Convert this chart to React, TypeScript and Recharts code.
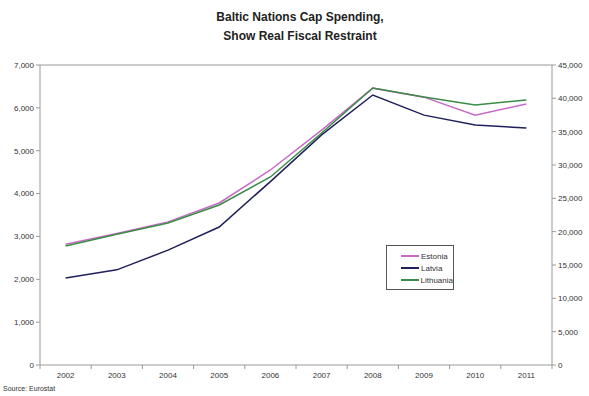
import {
  LineChart,
  Line,
  XAxis,
  YAxis,
  ReferenceLine,
} from 'recharts'

const years = ['2002', '2003', '2004', '2005', '2006', '2007', '2008', '2009', '2010', '2011']
const estonia = [2820, 3070, 3340, 3780, 4550, 5480, 6460, 6250, 5830, 6090]
const latvia = [2030, 2220, 2680, 3220, 4280, 5370, 6300, 5830, 5600, 5530]
const lithuania = [17850, 19600, 21300, 24000, 28200, 34800, 41550, 40200, 39000, 39750]

const leftTicks = [0, 1000, 2000, 3000, 4000, 5000, 6000, 7000]
const rightTicks = [0, 5000, 10000, 15000, 20000, 25000, 30000, 35000, 40000, 45000]

const series = [
  { key: 'Estonia', color: '#c868c8', axis: 'left' },
  { key: 'Latvia', color: '#20205a', axis: 'left' },
  { key: 'Lithuania', color: '#3a8c44', axis: 'right' },
]

const data = years.map((y, i) => ({
  year: y,
  Estonia: estonia[i],
  Latvia: latvia[i],
  Lithuania: lithuania[i],
}))

const fmt = (v: number) => v.toLocaleString('en-US')
const font = 'Arial, "Liberation Sans", sans-serif'
const axisColor = '#9a9a9a'

// category tick: label in the middle, tick mark on the band edges (Excel style)
function YearTick(props: any) {
  const { x, y, payload, index } = props
  const half = 25.6
  return (
    <g>
      <line x1={x - half} y1={y - 8} x2={x - half} y2={y - 4} stroke={axisColor} />
      {index === years.length - 1 && (
        <line x1={x + half} y1={y - 8} x2={x + half} y2={y - 4} stroke={axisColor} />
      )}
      <text x={x} y={y + 5} textAnchor="middle" fontSize={8} fill="#333" fontFamily={font}>
        {payload.value}
      </text>
    </g>
  )
}

function LegendBox() {
  return (
    <div
      style={{
        position: 'absolute',
        left: 386,
        top: 245,
        border: '1px solid #555',
        background: '#fff',
        width: 66,
        padding: '4px 0 3px 0',
        fontFamily: font,
        fontSize: 8,
        color: '#333',
      }}
    >
      {series.map((s) => (
        <div key={s.key} style={{ display: 'flex', alignItems: 'center', height: 12 }}>
          <span style={{ display: 'inline-block', width: 18, height: 2, background: s.color, marginLeft: 14, marginRight: 2 }} />
          <span>{s.key}</span>
        </div>
      ))}
    </div>
  )
}

export default function App() {
  return (
    <div style={{ position: 'absolute', left: 0, top: 0, width: 589, height: 396, background: '#fff' }}>
      {/* Titulo */}
      <div
        style={{
          position: 'absolute',
          top: 8,
          left: 0,
          width: 600,
          textAlign: 'center',
          fontFamily: font,
          fontWeight: 'bold',
          fontSize: 12,
          lineHeight: '19px',
          color: '#222',
        }}
      >
        Baltic Nations Cap Spending,
        <br />
        Show Real Fiscal Restraint
      </div>

      <LineChart width={589} height={396} data={data} margin={{ top: 65, right: 0, bottom: 11, left: 0 }}>
        <XAxis
          dataKey="year"
          padding={{ left: 25.6, right: 25.6 }}
          stroke={axisColor}
          tickLine={false}
          tick={<YearTick />}
          interval={0}
          height={20}
        />
        <YAxis
          yAxisId="left"
          domain={[0, 7000]}
          ticks={leftTicks}
          tickFormatter={fmt}
          width={40}
          stroke={axisColor}
          tickSize={4}
          tick={{ fontSize: 8, fill: '#333', fontFamily: font }}
        />
        <YAxis
          yAxisId="right"
          orientation="right"
          domain={[0, 45000]}
          ticks={rightTicks}
          tickFormatter={fmt}
          width={37}
          stroke={axisColor}
          tickSize={4}
          tick={{ fontSize: 8, fill: '#333', fontFamily: font }}
        />
        <ReferenceLine yAxisId="left" y={7000} stroke={axisColor} />
        {series.map((s) => (
          <Line
            key={s.key}
            yAxisId={s.axis}
            type="linear"
            dataKey={s.key}
            stroke={s.color}
            strokeWidth={1.5}
            dot={false}
            isAnimationActive={false}
          />
        ))}
      </LineChart>

      <LegendBox />

      <div
        style={{
          position: 'absolute',
          left: 3,
          top: 385,
          fontFamily: font,
          fontSize: 7,
          color: '#333',
        }}
      >
        Source: Eurostat
      </div>
    </div>
  )
}
